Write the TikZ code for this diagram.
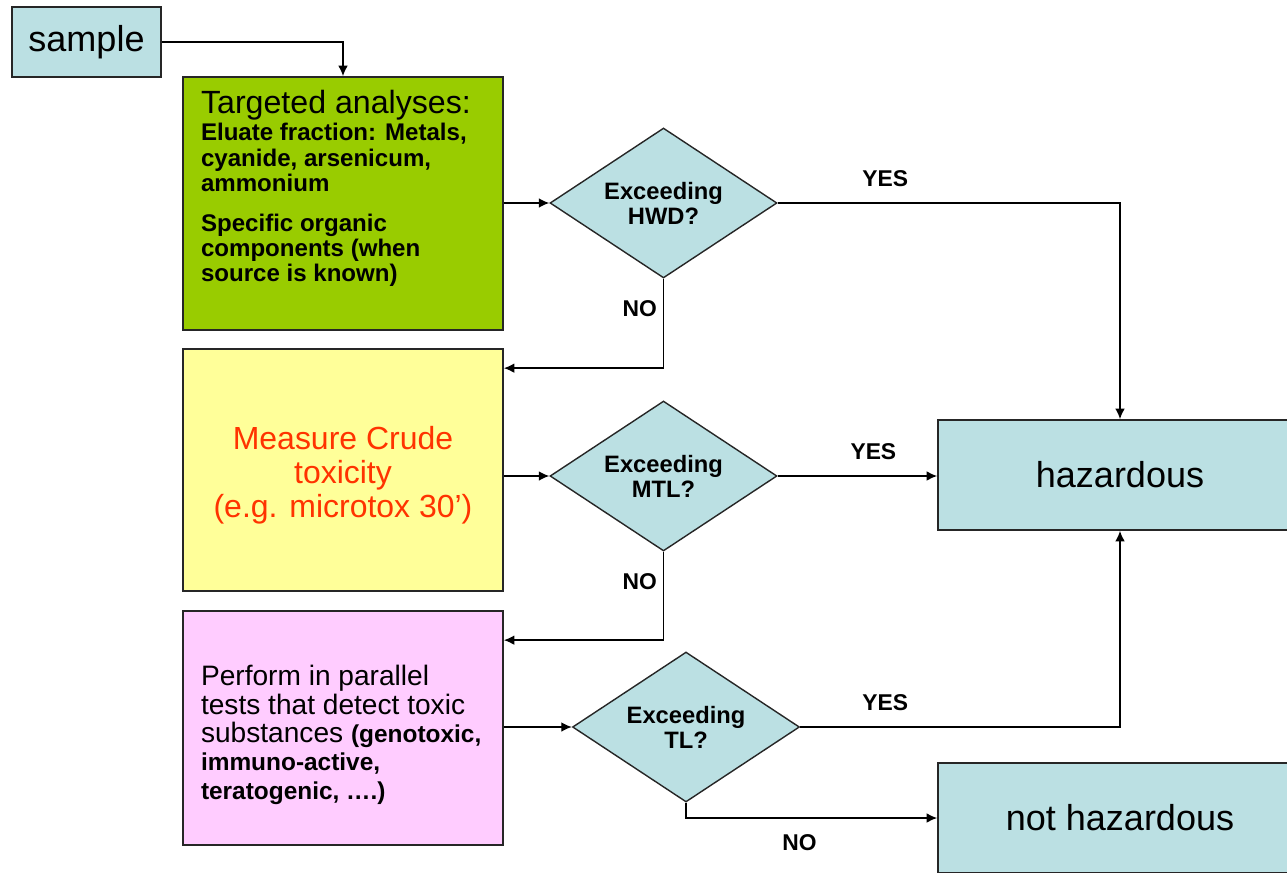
\documentclass[tikz,border=0pt]{standalone}
\usepackage{fontspec}
\setmainfont{Liberation Sans}
\usepackage{xcolor}
\usetikzlibrary{shapes,arrows,arrows.meta,positioning}

\definecolor{boxblue}{HTML}{BBE0E3}
\definecolor{boxgreen}{HTML}{99CC00}
\definecolor{boxyellow}{HTML}{FFFF99}
\definecolor{boxpink}{HTML}{FFCCFF}
\definecolor{textred}{HTML}{FF3300}

\begin{document}
\begin{tikzpicture}[
          x=0.02cm, y=-0.02cm,
          ->, >={Latex[length=6pt,width=5.5pt]}, line width=0.8pt,
          box/.style={rectangle, draw=black!85, line width=1pt, inner sep=0pt},
          decision/.style={diamond, aspect=1.5, draw=black!85, fill=boxblue, line width=0.8pt,
            inner sep=0pt, minimum width=4.54cm, minimum height=3cm, align=center,
            font=\fontsize{13.5}{14.2}\selectfont\bfseries},
          answer/.style={font=\fontsize{13}{15}\selectfont\bfseries}
        ]

        \useasboundingbox (0,0) rectangle (1287,872);
        \clip (0,0) rectangle (1287,872);

        % Nodes
        \node[box, fill=boxblue, minimum width=2.98cm, minimum height=1.4cm,
          font=\fontsize{20.5}{24}\selectfont] (S) at (86.5,42) {sample};
        \node[box, fill=boxgreen, minimum width=6.4cm, minimum height=5.06cm] (T) at (343,203.5)
          {\parbox[c][4.54cm][t]{5.68cm}{\raggedright
            {\fontsize{18.3}{20}\selectfont Targeted analyses:\par}
            \vspace{1pt}
            {\fontsize{13.7}{14.5}\selectfont\bfseries Eluate fraction: Metals,\\
              cyanide, arsenicum,\\ ammonium\par}
            \vspace{8pt}
            {\fontsize{13.7}{14.5}\selectfont\bfseries Specific organic\\
              components (when\\ source is known)\par}}};
        \node[box, fill=boxyellow, minimum width=6.4cm, minimum height=4.84cm,
          text=textred, font=\fontsize{18.2}{19.4}\selectfont] (C) at (343,470)
          {\parbox[c][4.5cm][c]{6cm}{\centering\vspace*{0.2cm}
            Measure Crude\\ toxicity\\ (e.g. microtox 30’)\par}};
        \node[box, fill=boxpink, minimum width=6.4cm, minimum height=4.68cm] (P) at (343,728)
          {\parbox[c][2.96cm][b]{5.68cm}{\raggedright\fontsize{16}{16.2}\selectfont
            Perform in parallel\\ tests that detect toxic\\ substances
            {\fontsize{13.9}{16.2}\selectfont\bfseries (genotoxic,\\ immuno-active,\\
              teratogenic, ….)}}};

        \node[decision] (D1) at (663.5,203) {Exceeding\\ HWD?};
        \node[decision] (D2) at (663.5,476) {Exceeding\\ MTL?};
        \node[decision] (D3) at (686,727) {Exceeding\\ TL?};

        \node[box, fill=boxblue, minimum width=7.28cm, minimum height=2.2cm,
          font=\fontsize{20.5}{24}\selectfont] (H) at (1120,475) {hazardous};
        \node[box, fill=boxblue, minimum width=7.28cm, minimum height=2.2cm,
          font=\fontsize{20.5}{24}\selectfont] (NH) at (1120,818) {not hazardous};

        % Edges into the first check
        \draw (S.east) -| (T.north);
        \draw (T.east |- D1.west) -- (D1.west);
        \draw (D1.east) -| node[answer, pos=0.157, above=0.2cm] {YES} (H.north);
        \draw (D1.south) |- node[answer, pos=0.17, left] {NO} ([yshift=-0.4cm]C.north east);

        % Edges of the second check
        \draw (C.east |- D2.west) -- (D2.west);
        \draw (D2.east) -- node[answer, pos=0.6, above=0.2cm] {YES} (D2.east -| H.west);
        \draw (D2.south) |- node[answer, pos=0.17, left] {NO} ([yshift=-0.6cm]P.north east);

        % Edges of the third check
        \draw (P.east |- D3.west) -- (D3.west);
        \draw (D3.east) -| node[answer, pos=0.133, above=0.2cm] {YES} (H.south);
        \draw (D3.south) |- node[answer, pos=0.726, below=0.2cm] {NO} (NH.west);

      \end{tikzpicture}
\end{document}
